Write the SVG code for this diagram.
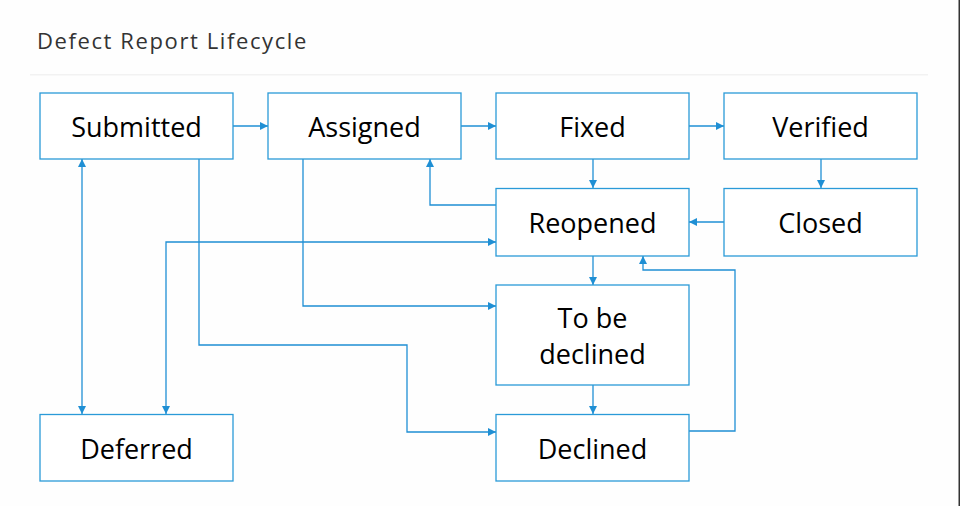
<svg xmlns="http://www.w3.org/2000/svg" width="960" height="506" viewBox="0 0 960 506">
<style>
.box{fill:#fff;stroke:#2a9ad8;stroke-width:1.3}
.lbl{font-family:"Open Sans","Noto Sans",sans-serif;font-size:27px;fill:#000;text-anchor:middle;dominant-baseline:central}
.ln{fill:none;stroke:#1f8fd4;stroke-width:1.3}
</style>
<defs>
<marker id="ah" viewBox="0 0 10 10" refX="10" refY="5" markerWidth="8" markerHeight="8" markerUnits="userSpaceOnUse" orient="auto-start-reverse">
<path d="M0,0 L10,5 L0,10 z" fill="#1f8fd4"/>
</marker>
</defs>
<rect width="960" height="506" fill="#fefefe"/>
<rect x="958.5" y="0" width="1.5" height="506" fill="#333"/>
<text x="37" y="49" font-family="Open Sans,Noto Sans,sans-serif" font-size="22" letter-spacing="1.6" fill="#333">Defect Report Lifecycle</text>
<rect x="30" y="74" width="898" height="1.5" fill="#f2f2f2"/>
<g id="connectors">
<line class="ln" x1="233" y1="126" x2="268" y2="126" marker-end="url(#ah)"/>
<line class="ln" x1="461" y1="126" x2="496" y2="126" marker-end="url(#ah)"/>
<line class="ln" x1="689" y1="126" x2="724" y2="126" marker-end="url(#ah)"/>
<line class="ln" x1="593" y1="159" x2="593" y2="188" marker-end="url(#ah)"/>
<line class="ln" x1="821" y1="159" x2="821" y2="188" marker-end="url(#ah)"/>
<line class="ln" x1="724" y1="222" x2="689" y2="222" marker-end="url(#ah)"/>
<polyline class="ln" points="496,205 430,205 430,159" marker-end="url(#ah)"/>
<line class="ln" x1="593" y1="256" x2="593" y2="285" marker-end="url(#ah)"/>
<line class="ln" x1="593" y1="385" x2="593" y2="414" marker-end="url(#ah)"/>
<polyline class="ln" points="166,414 166,242 496,242" marker-start="url(#ah)" marker-end="url(#ah)"/>
<line class="ln" x1="82" y1="159" x2="82" y2="414" marker-start="url(#ah)" marker-end="url(#ah)"/>
<polyline class="ln" points="303,159 303,306 496,306" marker-end="url(#ah)"/>
<polyline class="ln" points="199,159 199,345 407,345 407,432 496,432" marker-end="url(#ah)"/>
<polyline class="ln" points="689,431 735,431 735,270 643,270 643,256" marker-end="url(#ah)"/>
</g>
<g id="submitted"><rect class="box" x="40" y="93" width="193" height="66"/><text class="lbl" x="136.5" y="126">Submitted</text></g>
<g id="assigned"><rect class="box" x="268" y="93" width="193" height="66"/><text class="lbl" x="364.5" y="126">Assigned</text></g>
<g id="fixed"><rect class="box" x="496" y="93" width="193" height="66"/><text class="lbl" x="592.5" y="126">Fixed</text></g>
<g id="verified"><rect class="box" x="724" y="93" width="193" height="66"/><text class="lbl" x="820.5" y="126">Verified</text></g>
<g id="reopened"><rect class="box" x="496" y="188.5" width="193" height="67.5"/><text class="lbl" x="592.5" y="222">Reopened</text></g>
<g id="closed"><rect class="box" x="724" y="188.5" width="193" height="67.5"/><text class="lbl" x="820.5" y="222">Closed</text></g>
<g id="tobedeclined"><rect class="box" x="496" y="285" width="193" height="100"/><text class="lbl" x="592.5" y="317">To be</text><text class="lbl" x="592.5" y="353">declined</text></g>
<g id="deferred"><rect class="box" x="40" y="414.5" width="193" height="66.5"/><text class="lbl" x="136.5" y="448">Deferred</text></g>
<g id="declined"><rect class="box" x="496" y="414.5" width="193" height="66.5"/><text class="lbl" x="592.5" y="448">Declined</text></g>
</svg>
